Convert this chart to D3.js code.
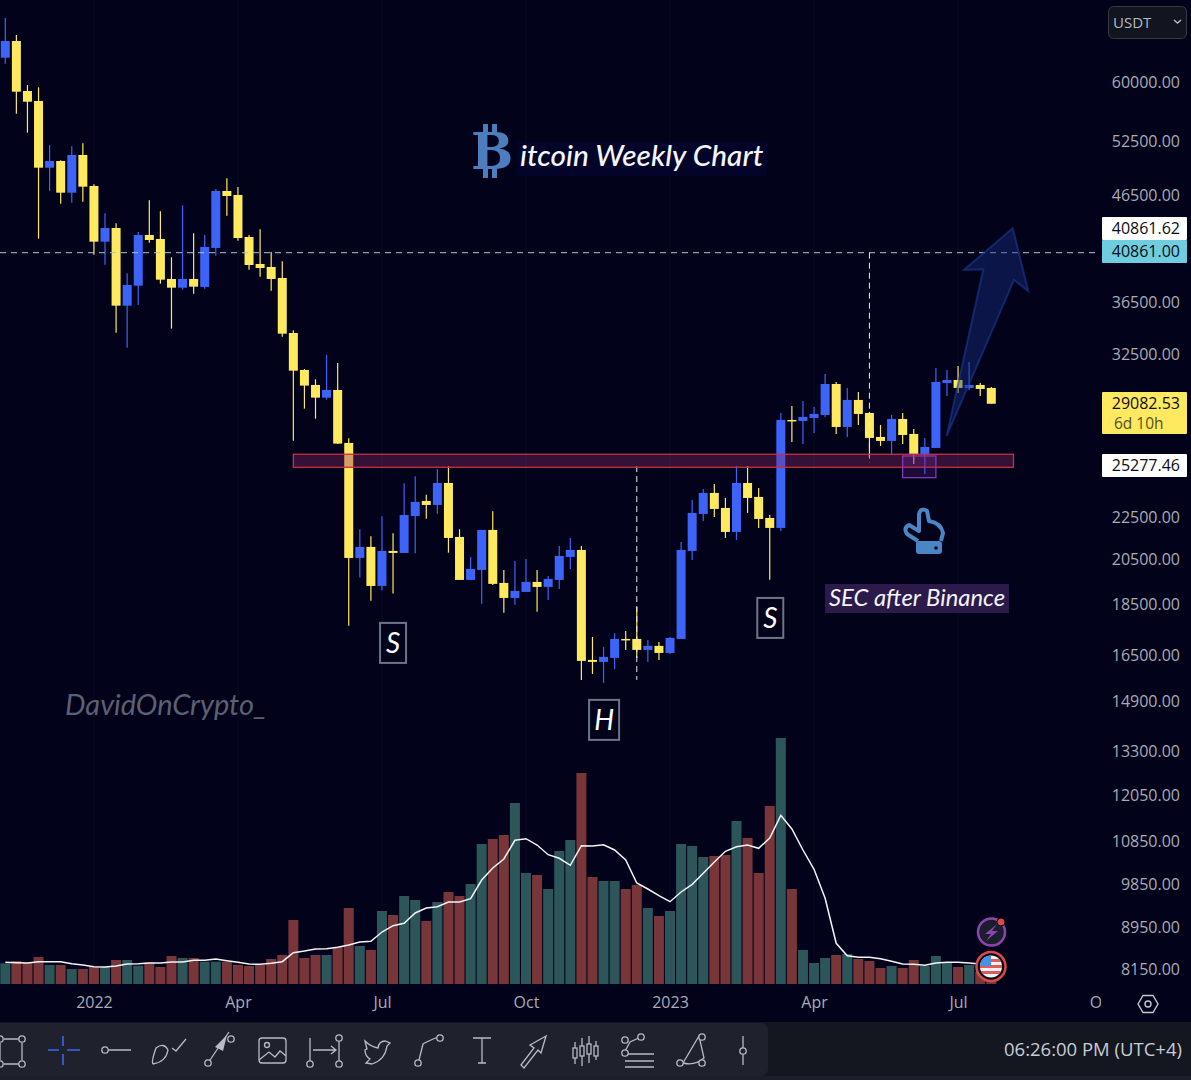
<!DOCTYPE html>
<html>
<head>
<meta charset="utf-8">
<script src="https://cdn.jsdelivr.net/npm/d3@7"></script>
<style>
  html, body { margin: 0; padding: 0; background: #02031a; overflow: hidden; }
  svg { display: block; }
  text { font-family: "Open Sans", sans-serif; }
</style>
</head>
<body>
<div id="chart"></div>
<script>
// Weekly candles, first bar is the week of Nov 8 2021. Values
const opens = [63372,65800,58797,57488,49476,50228,46770,50911,47480,41886,43198,36269,37938,42523,42142,38514,37767,38514,37830,41298,46950,46529,42331,39836,39568,38602,34106,31382,30340,29487,30001,26629,20557,21072,19301,20883,20789,22590,23370,23160,24335,21552,19564,20009,21894,19433,18787,19043,19476,19258,19564,20603,20930,16341,16268,16415,17131,17131,16713,16865,16600,17131,20883,22695,23795,23005,21796,24335,23582,22493,21993,28043,27980,28169,28360,30408,27604,29334,28488,26990,26749,28106,27173,25977,26330,30477,30684,30136,30340,30136];
const highs = [69294,66690,59596,59288,52070,50307,51917,52269,47660,44651,43657,39011,42811,45977,44853,40442,45462,42686,42523,47161,48309,47374,42523,43072,40927,40080,34315,31453,30732,32459,31881,26912,21928,21583,22580,21735,24325,24711,23703,25098,25270,21928,20603,21894,22835,20009,20419,20511,20009,19740,21118,21503,21118,17208,16826,17354,17443,18410,17093,17016,17208,21311,23423,24010,24281,23529,25286,25286,24064,22643,28488,28937,29268,28875,31100,30546,30136,29867,28552,27729,28360,28488,27481,26930,31523,31382,31665,31952,30477,30204];
const lows = [62520,55870,53530,42170,46950,45627,45730,45833,40680,39774,34130,32997,36326,41793,38110,34438,37598,37262,37683,40588,44410,41981,39329,38713,37514,33826,26767,28765,28125,29354,26568,17650,19666,18673,19099,18970,20789,20775,22457,22710,20800,19564,19564,18546,19345,18175,18493,19043,18216,18703,19172,20054,15622,15834,15517,16013,16713,16415,16268,16341,16563,17131,20465,22342,22543,21503,21407,22747,21993,19577,21845,26689,26568,27234,28233,27173,26990,27729,25802,26449,25917,26568,25400,24835,26330,29600,29800,30001,29600,29082.53];
const closes = [65800,58705,57398,49476,50228,46770,50911,47406,41886,43198,36269,37998,42523,42047,38454,37767,38514,37853,41391,46950,46424,42236,39746,39479,38514,34053,31332,30296,29487,30001,26589,20557,21072,19301,20883,20789,22643,23318,23160,24335,21503,19564,20054,21894,19390,18787,19086,19476,19258,19608,20650,20930,16304,16268,16452,17131,17093,16713,16865,16600,17170,20930,22747,23795,22953,21796,24335,23529,22442,21993,28043,27980,28233,28425,30408,27604,29334,28425,26930,26749,28106,27112,25977,26390,30546,30684,30136,30340,30068,29082.53];

// Volume and its moving average, relative units (no scale shown in the picture)
const volumes = [20.7,23,21.7,27,19,19,15,15,17,17,24,24,18.3,21.7,17,28,26,26,22.3,22.3,22.3,19,18,19,25,29,64,26,29,29,37,76,38,34,73,69,88,84,63,82,92,88,100,140,145,149,181,111,109,95,133,144,211,107,103,103,95,99,76,68,73,140,138,127,128,129,163,146,111,178,246,95,34,21,26,29,30,25,23,16,18,16,24,18,28,21,17,19,12,6];
const volumeMA = [21.7,21.3,21,22.3,22.3,22.3,20.3,19,17.3,17,18,20,20.3,21,21,22,22,23.7,23.7,25,23.3,21.7,20,19.7,20.7,22.3,31.3,33,35,35.3,36.7,39,42,42.7,52,58.3,60.7,71,76,77.3,82,82,85.3,104,116,125,143.7,145.3,139,129.3,125.7,118.7,138.3,138,139.3,134,124,101,95,88.3,82.3,92,99.7,110.7,122,132.7,137.3,139,135.7,146,168.7,155,134,114.7,85.7,40.7,28.3,26.7,26.7,25.3,22.7,20,19.7,18.7,21,21.7,21.7,21,20];

// Axis labels
const priceTicks = [60000,52500,46500,36500,32500,22500,20500,18500,16500,14900,13300,12050,10850,9850,8950,8150];
const monthBars = [8,21,34,47,60,73,86,99];
const monthLabels = ["2022","Apr","Jul","Oct","2023","Apr","Jul","Oct"];

// Drawings on the chart, as [bar, price]
const targetPrice = 40861;
const zoneBars = [26, 91];
const zonePrices = [25960, 25210];
const boxBars = [81, 84];
const boxPrices = [25860, 24627];
const arrowPoints = [[84.97,27050],[88.28,39360],[86.53,39302],[90.93,43170],[92.33,37490],[91.05,38428]];
const patternLabels = [
  {name: "S", bar: 35, price: 16978},
  {name: "H", bar: 54.05, price: 14278},
  {name: "S", bar: 69.05, price: 17960}
];

const upColor = "#3c64f8", downColor = "#ffe95e";
const upVol = "#2d565b", downVol = "#78353a";
const axisText = "#a9abb6";

const width = 1191, height = 1080;
const svg = d3.select("#chart").append("svg")
  .attr("width", width)
  .attr("height", height);

// Scales
const x = d3.scaleLinear().domain([0, 89]).range([5.3, 991.3]);
const y = d3.scaleLog().domain([8150, 60000]).range([969, 82]);
const volY = d3.scaleLinear().domain([0, 246]).range([984, 738]);

svg.append("rect").attr("width", width).attr("height", height).attr("fill", "#02031a");

svg.append("defs").append("clipPath").attr("id", "pane")
  .append("rect").attr("width", 1100).attr("height", 1020);

const pane = svg.append("g").attr("clip-path", "url(#pane)");

// Month grid lines
pane.append("g")
  .selectAll("line")
  .data(monthBars)
  .enter()
  .append("line")
  .attr("x1", d => x(d))
  .attr("x2", d => x(d))
  .attr("y1", 0)
  .attr("y2", 985)
  .attr("stroke", "#0a0c25");

// Volume bars
pane.append("g")
  .selectAll("rect")
  .data(volumes)
  .enter()
  .append("rect")
  .attr("x", (d, i) => x(i) - 5)
  .attr("y", d => volY(d))
  .attr("width", 10)
  .attr("height", d => volY(0) - volY(d))
  .attr("fill", (d, i) => closes[i] >= opens[i] ? upVol : downVol);

// Volume moving average
pane.append("path")
  .datum(volumeMA)
  .attr("fill", "none")
  .attr("stroke", "#f2f3f5")
  .attr("stroke-width", 1.5)
  .attr("d", d3.line().x((d, i) => x(i)).y(d => volY(d)));

// Candles
const candles = pane.append("g")
  .selectAll("g")
  .data(opens)
  .enter()
  .append("g")
  .attr("fill", (d, i) => closes[i] >= d ? upColor : downColor)
  .attr("stroke", (d, i) => closes[i] >= d ? upColor : downColor);

candles.append("line")
  .attr("x1", (d, i) => x(i))
  .attr("x2", (d, i) => x(i))
  .attr("y1", (d, i) => y(highs[i]))
  .attr("y2", (d, i) => y(lows[i]))
  .attr("stroke-width", 1.2);

candles.append("rect")
  .attr("x", (d, i) => x(i) - 4.5)
  .attr("width", 9)
  .attr("y", (d, i) => y(Math.max(d, closes[i])))
  .attr("height", (d, i) => Math.max(1.5, Math.abs(y(d) - y(closes[i]))))
  .attr("stroke", "none");

// Target line and the two measuring lines
pane.append("line")
  .attr("x1", 0).attr("x2", 1096)
  .attr("y1", y(targetPrice)).attr("y2", y(targetPrice))
  .attr("stroke", "#a9c3e0")
  .attr("stroke-dasharray", "6,5");

pane.append("line")
  .attr("x1", x(78)).attr("x2", x(78))
  .attr("y1", y(targetPrice)).attr("y2", y(25450))
  .attr("stroke", "#e8e8ee")
  .attr("stroke-dasharray", "6,4");

pane.append("line")
  .attr("x1", x(57)).attr("x2", x(57))
  .attr("y1", y(25277.46)).attr("y2", y(15622))
  .attr("stroke", "#e8e8ee")
  .attr("stroke-dasharray", "6,4");

// Resistance zone and the small purple box
pane.append("rect")
  .attr("x", x(zoneBars[0]))
  .attr("y", y(zonePrices[0]))
  .attr("width", x(zoneBars[1]) - x(zoneBars[0]))
  .attr("height", y(zonePrices[1]) - y(zonePrices[0]))
  .attr("fill", "#8a2a6a")
  .attr("fill-opacity", 0.38)
  .attr("stroke", "#c8303f")
  .attr("stroke-width", 1.3);

pane.append("rect")
  .attr("x", x(boxBars[0]))
  .attr("y", y(boxPrices[0]))
  .attr("width", x(boxBars[1]) - x(boxBars[0]))
  .attr("height", y(boxPrices[1]) - y(boxPrices[0]))
  .attr("fill", "#8a2fc0")
  .attr("fill-opacity", 0.2)
  .attr("stroke", "#8a3dbd")
  .attr("stroke-width", 1.2);

// Up arrow
pane.append("path")
  .datum(arrowPoints)
  .attr("d", d3.line().x(d => x(d[0])).y(d => y(d[1])).curve(d3.curveLinearClosed))
  .attr("fill", "#1a2f86")
  .attr("fill-opacity", 0.42)
  .attr("stroke", "#1b3a94")
  .attr("stroke-opacity", 0.6)
  .attr("stroke-width", 2);

// S H S boxes
const labels = pane.append("g")
  .selectAll("g")
  .data(patternLabels)
  .enter()
  .append("g")
  .attr("transform", d => `translate(${x(d.bar)},${y(d.price)})`);

labels.append("rect")
  .attr("x", d => d.name === "H" ? -15 : -13)
  .attr("y", -20)
  .attr("width", d => d.name === "H" ? 30 : 26)
  .attr("height", 40)
  .attr("fill", "#02031a")
  .attr("stroke", "#6d7486")
  .attr("stroke-width", 2);

labels.append("text")
  .attr("y", 10)
  .attr("text-anchor", "middle")
  .attr("fill", "#fff")
  .style("font-family", "Lato")
  .style("font-style", "italic")
  .style("font-size", "28px")
  .text(d => d.name);

// Title with the bitcoin logo
pane.append("rect").attr("x", 517).attr("y", 142).attr("width", 250).attr("height", 34).attr("fill", "#04042a");
const logo = pane.append("g").attr("fill", "#4b7dbf");
logo.append("text")
  .attr("x", 471).attr("y", 169)
  .style("font-family", "DejaVu Serif")
  .style("font-weight", "bold")
  .style("font-size", "50px")
  .text("B");
[[483,124],[492,124],[483,168],[492,168]].forEach(p => {
  logo.append("rect").attr("x", p[0]).attr("y", p[1]).attr("width", 5).attr("height", 10);
});
pane.append("text")
  .attr("x", 520).attr("y", 166)
  .attr("fill", "#f4f6fa")
  .style("font-family", "Lato")
  .style("font-style", "italic")
  .style("font-weight", "500")
  .style("font-size", "29.8px")
  .text("itcoin Weekly Chart");

// Watermark
pane.append("text")
  .attr("x", 65).attr("y", 715)
  .attr("fill", "#5d5f74")
  .style("font-family", "Lato")
  .style("font-style", "italic")
  .style("font-size", "29px")
  .text("DavidOnCrypto_");

// Note and the hand
pane.append("rect").attr("x", 825).attr("y", 584).attr("width", 184).attr("height", 29).attr("fill", "#2c1a4a");
pane.append("text")
  .attr("x", 829).attr("y", 606)
  .attr("fill", "#f4f4f8")
  .style("font-family", "Lato")
  .style("font-style", "italic")
  .style("font-size", "23.8px")
  .text("SEC after Binance");

const hand = pane.append("g");
hand.append("path")
  .attr("d", "M918,541 L907,534 Q903,528 909,525 L919,531 L919,514 Q921,507 927,511 L929,521 Q941,523 943,533 L941,541")
  .attr("fill", "none")
  .attr("stroke", "#4a86c5")
  .attr("stroke-width", 4)
  .attr("stroke-linejoin", "round");
hand.append("rect").attr("x", 916).attr("y", 541).attr("width", 26).attr("height", 13).attr("rx", 3).attr("fill", "#4a86c5");
hand.append("circle").attr("cx", 936).attr("cy", 548).attr("r", 1.8).attr("fill", "#02031a");

// Price axis
const yAxis = svg.append("g")
  .attr("transform", "translate(1180,0)")
  .call(d3.axisLeft(y).tickValues(priceTicks).tickFormat(d3.format(".2f")).tickSize(0).tickPadding(0));
yAxis.select(".domain").remove();
yAxis.selectAll("text")
  .attr("fill", axisText)
  .style("font-size", "16px");

// Time axis
svg.select("defs").append("clipPath").attr("id", "timeClip")
  .append("rect").attr("x", 0).attr("y", -10).attr("width", 1101).attr("height", 40);
const xAxis = svg.append("g")
  .attr("transform", "translate(0,997)")
  .attr("clip-path", "url(#timeClip)")
  .call(d3.axisBottom(x).tickValues(monthBars).tickFormat((d, i) => monthLabels[i]).tickSize(0).tickPadding(0));
xAxis.select(".domain").remove();
xAxis.selectAll("text")
  .attr("fill", axisText)
  .style("font-size", "16px");

// Price tags on the axis
const tags = [
  {text: "40861.62", top: 217, h: 23, fill: "#ffffff"},
  {text: "40861.00", top: 240, h: 23, fill: "#6fcde0"},
  {text: "29082.53", top: 392, h: 42, fill: "#ffe95e", sub: "6d 10h"},
  {text: "25277.46", top: 454, h: 23, fill: "#ffffff"}
];
const tag = svg.append("g").selectAll("g").data(tags).enter().append("g");
tag.append("rect")
  .attr("x", 1102).attr("y", d => d.top)
  .attr("width", 85).attr("height", d => d.h)
  .attr("rx", 1)
  .attr("fill", d => d.fill);
tag.append("text")
  .attr("x", 1180).attr("y", d => d.top + 17)
  .attr("text-anchor", "end")
  .attr("fill", "#0c0c14")
  .style("font-size", "16px")
  .text(d => d.text);
tag.filter(d => d.sub).append("text")
  .attr("x", 1114).attr("y", d => d.top + 37)
  .attr("fill", "#55501e")
  .style("font-size", "15.5px")
  .text(d => d.sub);

// Currency button
svg.append("rect").attr("x", 1108.5).attr("y", 6.5).attr("width", 78).attr("height", 32).attr("rx", 5)
  .attr("fill", "#12141f").attr("stroke", "#363a45");
svg.append("text").attr("x", 1113).attr("y", 28).attr("fill", "#b6b9c3").style("font-size", "15px").text("USDT");
svg.append("path").attr("d", "M1174,20 L1177.5,23 L1181,20").attr("fill", "none").attr("stroke", "#b6b9c3").attr("stroke-width", 1.5);

// Settings hexagon
svg.append("path").attr("d", "M1138,1004 L1143,995.5 L1153,995.5 L1158,1004 L1153,1012.5 L1143,1012.5 Z")
  .attr("fill", "none").attr("stroke", "#c4c7d0").attr("stroke-width", 1.4);
svg.append("circle").attr("cx", 1148).attr("cy", 1004).attr("r", 3).attr("fill", "none").attr("stroke", "#c4c7d0").attr("stroke-width", 1.4);

// Flash and flag badges
svg.append("circle").attr("cx", 991.5).attr("cy", 932).attr("r", 13.5).attr("fill", "#1b1e2c").attr("stroke", "#8e44ad").attr("stroke-width", 2.5);
svg.append("path").attr("d", "M997,924 L985,934 L991,934 L986,941 L998,931 L992,931 Z").attr("fill", "#8e44ad");
svg.append("circle").attr("cx", 1001).attr("cy", 922).attr("r", 4).attr("fill", "#e5483f").attr("stroke", "#02031a");

svg.append("circle").attr("cx", 991).attr("cy", 966.5).attr("r", 14.5).attr("fill", "#0a0a12").attr("stroke", "#d64a4a").attr("stroke-width", 2.5);
svg.append("defs").append("clipPath").attr("id", "flagClip")
  .append("circle").attr("cx", 991).attr("cy", 966.5).attr("r", 11);
const flag = svg.append("g").attr("clip-path", "url(#flagClip)");
flag.append("rect").attr("x", 980).attr("y", 955).attr("width", 22).attr("height", 23).attr("fill", "#f4f4f4");
[959, 965, 971].forEach(t => {
  flag.append("rect").attr("x", 980).attr("y", t).attr("width", 22).attr("height", 3).attr("fill", "#e15b5b");
});
flag.append("rect").attr("x", 980).attr("y", 955).attr("width", 11).attr("height", 11).attr("fill", "#4a90e2");

// Bottom bars
svg.append("rect").attr("x", 0).attr("y", 1022).attr("width", width).attr("height", 54).attr("fill", "#14171f");
svg.append("rect").attr("x", 0).attr("y", 1076).attr("width", width).attr("height", 4).attr("fill", "#1c1f29");
svg.append("rect").attr("x", -10).attr("y", 1023).attr("width", 778).attr("height", 53).attr("rx", 7).attr("fill", "#1f222d");
svg.append("text")
  .attr("x", 1004).attr("y", 1056)
  .attr("fill", "#c9ccd4")
  .style("font-size", "18.5px")
  .text("06:26:00 PM (UTC+4)");

// Toolbar icons
const tools = svg.append("g")
  .attr("fill", "none")
  .attr("stroke", "#b8bbc5")
  .attr("stroke-width", 1.3);
const toolPaths = [
  "M4,1039 H19 M22,1043 V1060 M4,1064 H19 M0,1043 V1060",
  "M108,1050 H131 M153,1064 Q151,1062 156,1048 Q164,1042 168,1050 Q166,1062 153,1064 M172,1048 L176,1051 L186,1039",
  "M208,1063 L229,1032",
  "M310,1038 V1064 M339,1036 V1064 M313,1050 H336 M331,1046 L336,1050 L331,1054",
  "M365,1041 Q371,1047 378,1048 Q379,1041 385,1041 L390,1043 L387,1046 Q385,1060 372,1064 L366,1063 L370,1059 Q365,1056 365,1050 L367,1049 Z",
  "M419,1060 L423,1044 Q426,1042 438,1037",
  "M473,1038 H491 M482,1038 V1063 M478,1063 H486",
  "M521,1065 L534,1048 L530,1045 L546,1036 L541,1053 L538,1050 L524,1068 Z",
  "M575,1042 V1064 M582,1038 V1066 M589,1036 V1063 M596,1041 V1060",
  "M624,1053 L630,1042 L641,1037 M625,1061 H654 M625,1067 H654 M625,1054 H654",
  "M683,1063 L699,1036 L704,1058 Q695,1066 683,1063",
  "M743,1036 V1065"
];
toolPaths.forEach(p => tools.append("path").attr("d", p));
const toolDots = [[0,1039],[22,1039],[0,1064],[22,1064],[105,1050],[208,1063],[231,1039],[310,1064],[339,1064],[339,1038],[418,1063],[440,1038],[625,1040],[625,1053],[641,1037],[680,1063],[702,1063],[702,1037],[743,1051]];
tools.selectAll("circle")
  .data(toolDots)
  .enter()
  .append("circle")
  .attr("cx", d => d[0])
  .attr("cy", d => d[1])
  .attr("r", 3.2)
  .attr("fill", "#1f222d");
// Candles in the toolbar icon
tools.selectAll("rect.bar")
  .data([[573,1048],[580,1046],[587,1044],[594,1046]])
  .enter()
  .append("rect")
  .attr("class", "bar")
  .attr("x", d => d[0]).attr("y", d => d[1])
  .attr("width", 4).attr("height", 10)
  .attr("fill", "#1f222d");
// Crosshair, active tool
svg.append("path")
  .attr("d", "M63,1036 V1046 M63,1054 V1065 M48,1050 H59 M67,1050 H80")
  .attr("stroke", "#3c64f8").attr("stroke-width", 1.6);
// Image tool
tools.append("rect").attr("x", 259).attr("y", 1038).attr("width", 27).attr("height", 25).attr("rx", 3);
tools.append("circle").attr("cx", 267).attr("cy", 1045).attr("r", 2.5);
tools.append("path").attr("d", "M259,1060 L269,1052 L275,1057 L280,1051 L286,1056");
// Arrow head on the arrow tool
svg.append("path").attr("d", "M227,1035 L215,1047 L223,1051 Z").attr("fill", "#b8bbc5");
</script>
</body>
</html>
